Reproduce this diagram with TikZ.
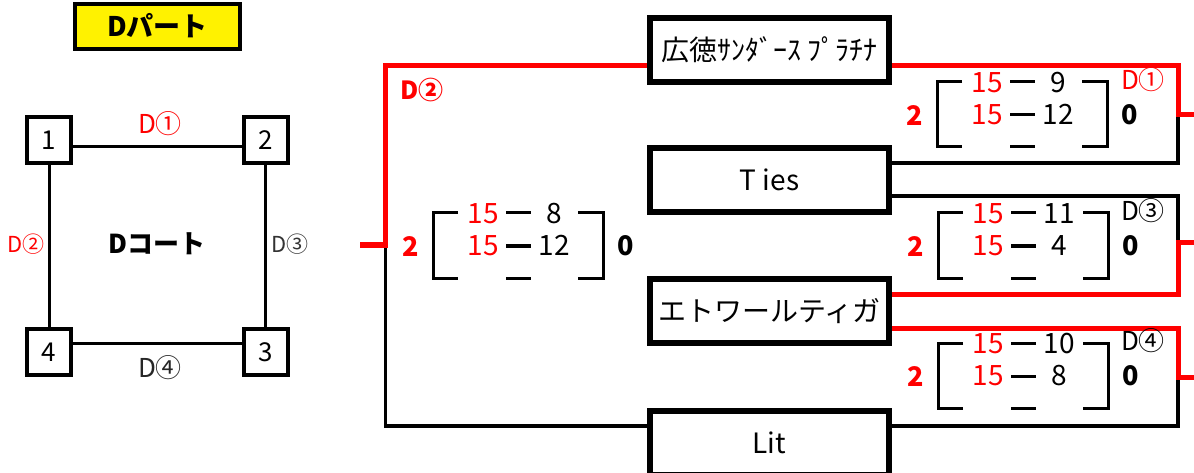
\documentclass[tikz,border=0pt]{standalone}
\usepackage{fontspec}
\setmainfont{Noto Sans CJK JP}
\usetikzlibrary{backgrounds}
\newcommand{\fsz}[1]{\fontsize{#1}{#1}\selectfont}
\newcommand{\scoreblock}[5]{%
  \begin{scope}[shift={(#2,#3)}]
    \draw[brk] (25,0) -- (0,0) -- (0,65) -- (25,65);
    \draw[brk] (145,0) -- (170,0) -- (170,65) -- (145,65);
    \draw[brk] (73,0) -- (98,0) (73,33) -- (98,33) (73,65) -- (98,65);
    \node[num,text=red,font=\bfseries\fsz{27}] (#1w) at (-22,33) {2};
    \node[num,text=red] (#1a) at (50,0) {15};
    \node[num,text=red] (#1b) at (50,32) {15};
    \node[num] (#1c) at (121,0) {#4};
    \node[num] (#1d) at (121,32) {#5};
    \node[num,font=\bfseries\fsz{27}] (#1z) at (193,32) {0};
  \end{scope}}
\begin{document}
\begin{tikzpicture}[x=1pt,y=-1pt,
  redline/.style={draw=red, line width=5pt},
  blkline/.style={draw=black, line width=3.5pt},
  team/.style={draw, fill=white, line width=6pt, minimum width=239pt, minimum height=64pt, inner sep=0pt, font=\fsz{28}, text height=24pt, text depth=3pt},
  court/.style={draw, line width=4pt, minimum width=44pt, minimum height=46pt, inner sep=0pt, font=\fsz{26}, text height=18.5pt, text depth=0pt},
  courtline/.style={line width=3pt},
  brk/.style={line width=3pt},
  num/.style={inner sep=0pt, font=\fsz{28}, text height=20.5pt, text depth=0pt},
  lbl/.style={inner sep=0pt, text height=19pt, text depth=0pt, font=\fsz{26}},
  slbl/.style={inner sep=0pt, text height=16pt, text depth=0pt, font=\fsz{22}}
]
\useasboundingbox (0,0) rectangle (1194,473);

% title
\node[draw, line width=4pt, fill=yellow, minimum width=165pt, minimum height=45pt, inner sep=0pt,
      font=\bfseries\fsz{27}, text height=20pt, text depth=0pt] (title) at (157.5,26.5) {Dパート};

% court diagram
\node[court] (b1) at (49,140) {1};
\node[court] (b2) at (265.5,140) {2};
\node[court] (b4) at (49,352) {4};
\node[court] (b3) at (265.5,352) {3};
\draw[courtline] ([yshift=-7pt]b1.east) -- ([yshift=-7pt]b2.west);
\draw[courtline] ([yshift=9pt]b4.east) -- ([yshift=9pt]b3.west);
\draw[courtline] (b1.south) -- (b4.north);
\draw[courtline] (b2.south) -- (b3.north);
\node[lbl, text=red] (l1) at (160,124) {D①};
\node[slbl, text=red] (l2) at (26,244) {D②};
\node[slbl, text=black!80] (l3) at (290,244) {D③};
\node[lbl, text=black!85] (l4) at (160,368) {D④};
\node[lbl, font=\bfseries\fsz{26}] (court) at (157,244) {Dコート};

% teams
\node[team] (t1) at (769.5,50) {広徳ｻﾝﾀﾞｰｽ ﾌﾟﾗﾁﾅ};
\node[team] (t2) at (769.5,180) {T ies};
\node[team] (t3) at (769.5,311) {エトワールティガ};
\node[team] (t4) at (769.5,443) {Lit};

% junctions
\coordinate (j2) at (385.5,245);
\coordinate (o2) at (360,245);
\coordinate (j1) at (1178,115);
\coordinate (o1) at (1198,115);
\coordinate (j3) at (1178,243);
\coordinate (o3) at (1198,243);
\coordinate (j4) at (1178,377);
\coordinate (o4) at (1198,377);

\begin{pgfonlayer}{background}
  % D2 (left)
  \draw[blkline] (j2) |- ([yshift=17pt]t4.west);
  \draw[redline] ([yshift=-16pt]t1.west) -| (j2) -- (o2);
  % D1
  \draw[blkline] ([yshift=17pt]t2.east) -| (j1);
  \draw[redline] ([yshift=-16pt]t1.east) -| (j1) -- (o1);
  % D3
  \draw[blkline] ([yshift=-16pt]t2.east) -| (j3);
  \draw[redline] ([yshift=17pt]t3.east) -| (j3) -- (o3);
  % D4
  \draw[blkline] ([yshift=17pt]t4.east) -| (j4);
  \draw[redline] ([yshift=-17pt]t3.east) -| (j4) -- (o4);
\end{pgfonlayer}

\node[lbl, text=red, font=\bfseries\fsz{25}] (m2) at (422,90) {D②};

% score blocks
\scoreblock{s2}{433}{213}{8}{12}
\scoreblock{s1}{937}{82}{9}{12}
\scoreblock{s3}{938}{213}{11}{4}
\scoreblock{s4}{938}{343}{10}{8}

\node[lbl, text=red] (m1) at (1143,80) {D①};
\node[lbl] (m3) at (1143,211) {D③};
\node[lbl] (m4) at (1143,341) {D④};
\end{tikzpicture}
\end{document}
